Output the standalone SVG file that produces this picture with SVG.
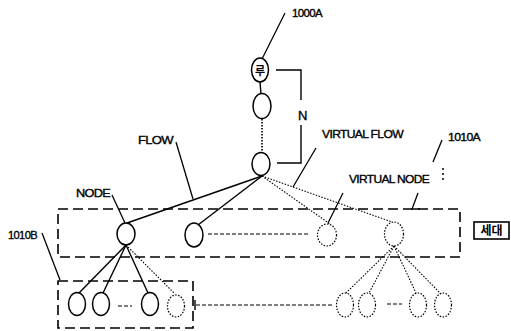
<svg xmlns="http://www.w3.org/2000/svg" width="511" height="331" viewBox="0 0 511 331">
<style>
  .bg{fill:#fff}
  .node{fill:none;stroke:#000;stroke-width:1.5}
  .vnode{fill:none;stroke:#000;stroke-width:1.2;stroke-dasharray:1.5 1.5}
  .solid{fill:none;stroke:#000;stroke-width:1.4}
  .dot{fill:none;stroke:#000;stroke-width:1.1;stroke-dasharray:1.5 1.5}
  .dash{fill:none;stroke:#000;stroke-width:1.1;stroke-dasharray:4 2}
  .grp{fill:none;stroke:#000;stroke-width:1.6;stroke-dasharray:10 5}
  .lead{fill:none;stroke:#000;stroke-width:1.3}
  .lbl{font-family:"Liberation Sans",Arial,sans-serif;font-size:11px;font-weight:normal;fill:#000;stroke:#000;stroke-width:0.35;letter-spacing:-0.6px}
  .kr{font-family:"Noto Sans CJK KR",sans-serif;font-weight:bold;fill:#000}
</style>
<rect class="bg" x="0" y="0" width="511" height="331"/>

<g id="groups">
  <rect id="g1010A" class="grp" x="58" y="209" width="402" height="48"/>
  <rect id="g1010B" class="grp" x="58" y="281" width="135" height="47"/>
</g>

<g id="connectors">
  <line class="solid" x1="260" y1="82" x2="261" y2="94"/>
  <line class="dot" style="stroke-width:1.6" x1="262" y1="119" x2="262" y2="152"/>
  <line class="solid" x1="262" y1="176" x2="127" y2="223"/>
  <line class="solid" x1="262" y1="176" x2="198" y2="225"/>
  <line class="dot" x1="262" y1="176" x2="330" y2="224"/>
  <line class="dot" x1="262" y1="176" x2="392" y2="222"/>
  <line class="solid" x1="126" y1="245" x2="79" y2="293"/>
  <line class="solid" x1="126" y1="245" x2="103" y2="293"/>
  <line class="solid" x1="126" y1="245" x2="148" y2="293"/>
  <line class="dot" x1="126" y1="245" x2="175" y2="294"/>
  <line class="dash" x1="208" y1="234" x2="310" y2="234"/>
  <line class="dot" x1="394" y1="246" x2="346" y2="293"/>
  <line class="dot" x1="394" y1="246" x2="369" y2="293"/>
  <line class="dot" x1="394" y1="246" x2="416" y2="293"/>
  <line class="dot" x1="394" y1="246" x2="441" y2="294"/>
  <line class="dash" x1="118" y1="306" x2="132" y2="306"/>
  <line class="dash" x1="387" y1="304" x2="402" y2="304"/>
  <line class="dash" x1="196" y1="305" x2="332" y2="305"/>
  <line class="solid" x1="195" y1="300" x2="195" y2="310"/>
  <path class="solid" d="M276,70 H301 V100 M301,125 V163 H277"/>
</g>

<g id="leaders">
  <line class="lead" x1="262" y1="59" x2="285" y2="13"/>
  <line class="lead" x1="176" y1="142" x2="193" y2="199"/>
  <line class="lead" x1="112" y1="195" x2="125" y2="223"/>
  <line class="lead" x1="316" y1="148" x2="293" y2="187"/>
  <line class="lead" x1="343" y1="193" x2="328" y2="223"/>
  <path class="lead" d="M418,193 L412,209 H420"/>
  <line class="lead" x1="442" y1="140" x2="433" y2="162"/>
  <line class="lead" x1="42" y1="233" x2="60" y2="280"/>
  <circle cx="443" cy="169" r="1" fill="#000"/>
  <circle cx="443" cy="174" r="1" fill="#000"/>
  <circle cx="443" cy="179" r="1" fill="#000"/>
</g>

<g id="n1000A">
  <ellipse class="node" cx="260" cy="70" rx="8.5" ry="12"/>
  <text class="kr" x="260" y="75" font-size="11" text-anchor="middle">루</text>
</g>
<g id="n2"><ellipse class="node" cx="262" cy="106" rx="9" ry="12.5"/></g>
<g id="n3"><ellipse class="node" cx="261" cy="164" rx="9" ry="11.5"/></g>
<g id="nNODE"><ellipse class="node" cx="126" cy="234" rx="9" ry="11"/></g>
<g id="n5"><ellipse class="node" cx="194" cy="235" rx="9" ry="12"/></g>
<g id="vn1"><ellipse class="vnode" cx="327" cy="235" rx="9.5" ry="11"/></g>
<g id="vn2"><ellipse class="vnode" cx="394" cy="234" rx="9.5" ry="12"/></g>
<g id="la"><ellipse class="node" cx="77" cy="304" rx="8.5" ry="11.5"/></g>
<g id="lb"><ellipse class="node" cx="101" cy="304" rx="8.5" ry="11.5"/></g>
<g id="lc"><ellipse class="node" cx="150" cy="304" rx="8.5" ry="11.5"/></g>
<g id="ld"><ellipse class="vnode" cx="176" cy="306" rx="8.5" ry="11"/></g>
<g id="le"><ellipse class="vnode" cx="345" cy="305" rx="8.5" ry="12"/></g>
<g id="lf"><ellipse class="vnode" cx="367" cy="305" rx="8.5" ry="12"/></g>
<g id="lg"><ellipse class="vnode" cx="418" cy="305" rx="8.5" ry="12"/></g>
<g id="lh"><ellipse class="vnode" cx="443" cy="305" rx="8.5" ry="12"/></g>

<g id="gen">
  <rect x="474" y="222" width="35" height="17" fill="none" stroke="#000" stroke-width="1.6"/>
  <text class="kr" x="491.5" y="235" font-size="12" text-anchor="middle">세대</text>
</g>

<g id="labels">
  <text class="lbl" x="292" y="17" textLength="30" lengthAdjust="spacingAndGlyphs">1000A</text>
  <text class="lbl" x="298" y="120" style="font-size:13px">N</text>
  <text class="lbl" x="138" y="144" textLength="35" lengthAdjust="spacingAndGlyphs">FLOW</text>
  <text class="lbl" x="322" y="138" textLength="81" lengthAdjust="spacingAndGlyphs">VIRTUAL FLOW</text>
  <text class="lbl" x="448" y="141" textLength="32" lengthAdjust="spacingAndGlyphs">1010A</text>
  <text class="lbl" x="349" y="183" textLength="80" lengthAdjust="spacingAndGlyphs">VIRTUAL NODE</text>
  <text class="lbl" x="76" y="197" textLength="34" lengthAdjust="spacingAndGlyphs">NODE</text>
  <text class="lbl" x="8" y="239" textLength="29" lengthAdjust="spacingAndGlyphs">1010B</text>
</g>
</svg>
